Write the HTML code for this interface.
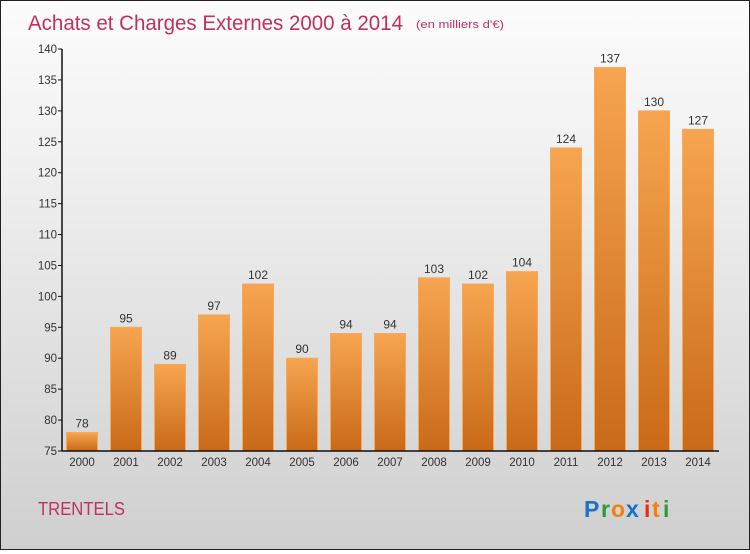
<!DOCTYPE html>
<html><head><meta charset="utf-8"><style>
body{margin:0;width:750px;height:550px;overflow:hidden;font-family:"Liberation Sans",sans-serif}
#c{position:absolute;left:0;top:0;width:748px;height:548px;border:1px solid #222;background:linear-gradient(#fcfcfc,#f0f0f0 30%,#cfcfcf)}
</style></head><body>
<div id="c">
<svg width="748" height="548">
<defs><linearGradient id="g" x1="0" y1="0" x2="0" y2="1"><stop offset="0" stop-color="#f7a550"/><stop offset="1" stop-color="#c96a18"/></linearGradient></defs>
<text x="27" y="29" font-size="21" fill="#c0305f" textLength="375" lengthAdjust="spacingAndGlyphs">Achats et Charges Externes 2000 à 2014</text>
<text x="415" y="27" font-size="11" fill="#c0305f" textLength="88" lengthAdjust="spacingAndGlyphs">(en milliers d'€)</text>
<text x="37" y="514" font-size="18" fill="#c0305f" textLength="87" lengthAdjust="spacingAndGlyphs">TRENTELS</text>
<g font-size="23" font-weight="bold">
<text x="583" y="516" fill="#1a72c8">P</text><text x="600" y="516" fill="#2a9a3a">r</text><text x="610" y="516" fill="#f08010">o</text><text x="625" y="516" fill="#1a72c8">x</text><text x="643" y="516" fill="#e03010">i</text><text x="651" y="516" fill="#f08010">t</text><text x="662" y="516" fill="#2a9a3a">i</text></g>
<g id="plot"></g>
</svg></div>
<script>
const categories=["2000","2001","2002","2003","2004","2005","2006","2007","2008","2009","2010","2011","2012","2013","2014"];
const values=[78,95,89,97,102,90,94,94,103,102,104,124,137,130,127];
const yTicks=[75,80,85,90,95,100,105,110,115,120,125,130,135,140];
const y0=450,y1=48,vmin=75,vmax=140;
const y=v=>y0-(v-vmin)/(vmax-vmin)*(y0-y1);
const x=i=>81+i*44;
const NS="http://www.w3.org/2000/svg",p=document.getElementById('plot');
function mk(t,a,txt){const e=document.createElementNS(NS,t);for(const k in a)e.setAttribute(k,a[k]);if(txt!==undefined)e.textContent=txt;p.appendChild(e);return e;}
values.forEach((v,i)=>{
const r=mk('rect',{x:x(i)-15.5,y:y(v),width:31,height:y0-y(v),fill:'url(#g)',stroke:'#f5a860','stroke-width':1});


const t=mk('text',{x:x(i),y:y(v)-5,'font-size':12,fill:'#333','text-anchor':'middle'},v);


const c=mk('text',{x:x(i),y:y0+15,'font-size':11.5,fill:'#333','text-anchor':'middle'},categories[i]);


});
yTicks.forEach(v=>{
const l=mk('line',{x1:57,x2:61,y1:y(v),y2:y(v),stroke:'#111'});


const t=mk('text',{x:56,y:y(v)+4,'font-size':11.5,fill:'#333','text-anchor':'end'},v);


});
const ya=mk('line',{x1:61,x2:61,y1:y1,y2:y0,stroke:'#111','stroke-width':1.5});


const xa=mk('line',{x1:61,x2:718,y1:y0,y2:y0,stroke:'#111','stroke-width':1.5});


</script>
</body></html>
